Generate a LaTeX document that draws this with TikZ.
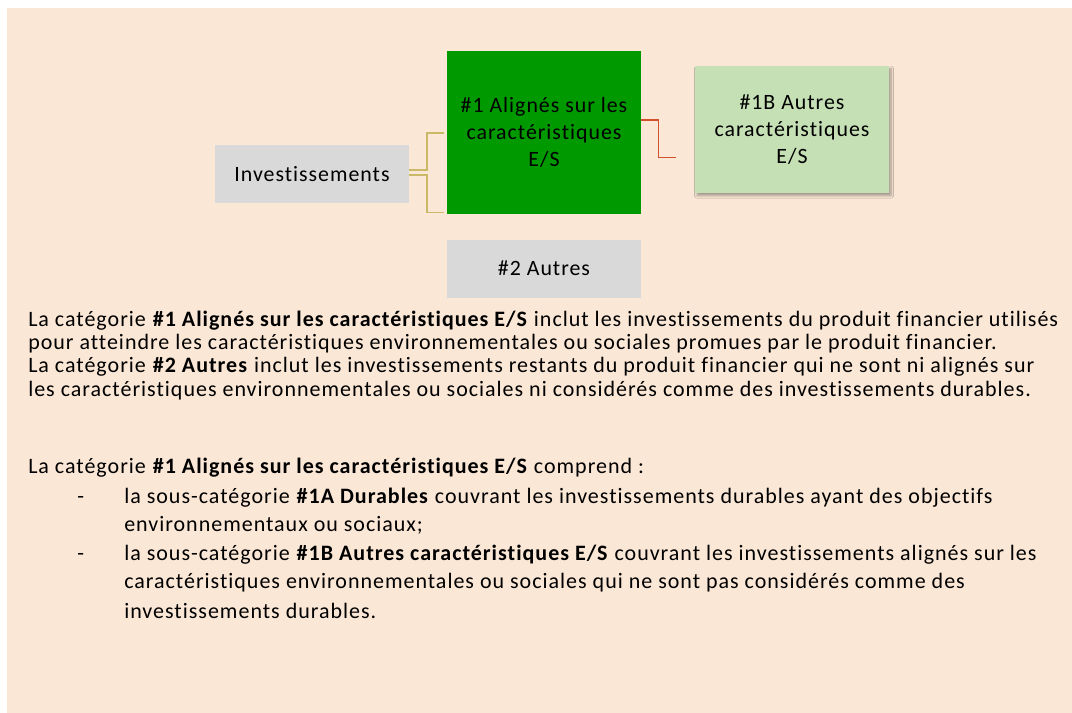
\documentclass[tikz,border=0pt]{standalone}
\usepackage{fontspec}
\setmainfont{Carlito}[Ligatures=NoCommon,LetterSpace=4.5]
\usetikzlibrary{positioning,calc,shadows.blur}
\definecolor{peach}{HTML}{FBE7D6}
\definecolor{boxgray}{HTML}{D9D9D9}
\definecolor{esgreen}{HTML}{009900}
\definecolor{lightgreen}{HTML}{C5E0B4}
\definecolor{tanline}{HTML}{C9B968}
\definecolor{redline}{HTML}{D2502E}

\begin{document}
\begin{tikzpicture}[x=0.75pt,y=-0.75pt,
                box/.style={rectangle,minimum width=145.5pt,inner sep=0pt,align=center,
                            font=\fontsize{16.4}{20.25}\selectfont},
                body/.style={anchor=base west,inner sep=0pt,font=\fontsize{16.5}{17.5}\selectfont},
                link/.style={line width=1.1pt}]
  \useasboundingbox (0,0) rectangle (1072,713);
  \fill[peach] (7,8) rectangle (1072,713);

  % boxes
  \node[box,fill=boxgray,minimum height=43.5pt] (invest) at (312,174) {Investissements};
  \node[box,fill=esgreen,minimum height=122.25pt] (es1) at (544,132.5) {\#1 Alignés sur les\\caractéristiques\\E/S};
  \node[box,fill=boxgray,minimum height=43.5pt,below=18.75pt of es1] (autres) {\#2 Autres};
  \node[box,fill=lightgreen,minimum height=95.25pt,
        blur shadow={shadow xshift=1.5pt,shadow yshift=-2pt,shadow blur steps=6,shadow opacity=35}]
        (es1b) at (792,129.5) {\#1B Autres\\caractéristiques\\E/S};
  \coordinate (redend) at ($(es1b.west)+(-19,28)$);

  % links
  \draw[link,tanline] ($(invest.east)+(0,-4)$) -- ++(17.5,0) |- ($(es1.west)+(-3,0.5)$);
  \draw[link,tanline] ($(invest.east)+(0,1)$) -- ++(17.5,0) |- ($(es1.south west)+(-3,-1.5)$);
  \draw[link,redline] ($(es1.east)+(0,-12.5)$) -- ++(17,0) |- (redend);

  % text
  \node[body] (p1a) at (28,326) {La catégorie \textbf{\#1 Alignés sur les caractéristiques E/S} inclut les investissements du produit financier utilisés};
  \node[body] (p1b) at (28,349.3) {pour atteindre les caractéristiques environnementales ou sociales promues par le produit financier.};
  \node[body] (p2a) at (28,372.7) {La catégorie \textbf{\#2 Autres} inclut les investissements restants du produit financier qui ne sont ni alignés sur};
  \node[body] (p2b) at (28,396) {les caractéristiques environnementales ou sociales ni considérés comme des investissements durables.};
  \node[body] (p3) at (28,473) {La catégorie \textbf{\#1 Alignés sur les caractéristiques E/S} comprend :};
  \node[body] (dash1) at (77,503) {-};
  \node[body] (i1a) at (124,503) {la sous-catégorie \textbf{\#1A Durables} couvrant les investissements durables ayant des objectifs};
  \node[body] (i1b) at (124,531) {environnementaux ou sociaux;};
  \node[body] (dash2) at (77,560) {-};
  \node[body] (i2a) at (124,560) {la sous-catégorie \textbf{\#1B Autres caractéristiques E/S} couvrant les investissements alignés sur les};
  \node[body] (i2b) at (124,588) {caractéristiques environnementales ou sociales qui ne sont pas considérés comme des};
  \node[body] (i2c) at (124,618) {investissements durables.};
\end{tikzpicture}
\end{document}
